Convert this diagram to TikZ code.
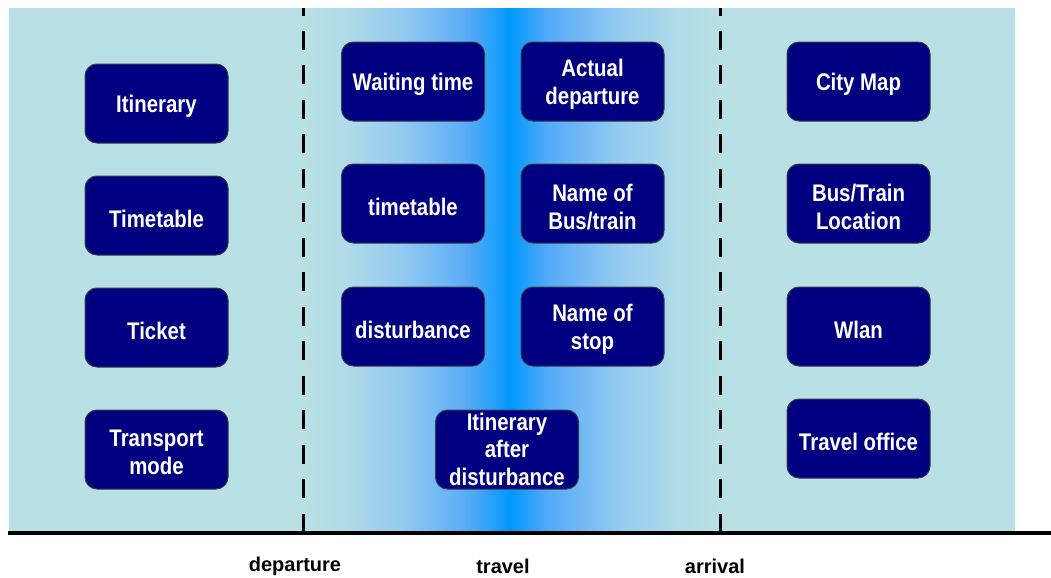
\documentclass[tikz,border=0pt]{standalone}
\usepackage{fontspec}
\newfontfamily\boxfont{Liberation Sans}[FakeStretch=0.85]
\newfontfamily\axisfont{Liberation Sans}

\definecolor{tealbg}{HTML}{B9E0E4}
\definecolor{bandA}{HTML}{B0DCE8}
\definecolor{bandB}{HTML}{95CBF0}
\definecolor{bandC}{HTML}{55AAF7}
\definecolor{bandD}{HTML}{0099FF}
\definecolor{boxnavy}{HTML}{000080}
\definecolor{boxedge}{HTML}{3A3A4A}

% light band in the travel phase, brightest in the middle
\pgfdeclarehorizontalshading{travelband}{100bp}{%
  color(0bp)=(tealbg); color(25bp)=(tealbg); color(30bp)=(bandA);
  color(36.6bp)=(bandB); color(45bp)=(bandC); color(49.8bp)=(bandD);
  color(54.5bp)=(bandC); color(63bp)=(bandB); color(70bp)=(bandA);
  color(75bp)=(tealbg); color(100bp)=(tealbg)}

% a rounded info box with its caption set slightly below the centre
\newcommand\infobox[4][-2.4pt]{%
  \node[infobox] (#2) at (#3) {};
  \node[boxtext] (#2-text) at ([yshift=#1]#2.center) {#4};}

\begin{document}
\begin{tikzpicture}[x=0.75pt,y=-0.75pt,
  infobox/.style={draw=boxedge, line width=0.75pt, fill=boxnavy,
    rounded corners=9pt, minimum width=107.25pt, minimum height=59.25pt,
    inner sep=0pt},
  boxtext/.style={inner sep=0pt, align=center, text=white,
    font=\boxfont\bfseries\fontsize{18}{21}\selectfont},
  tightbox/.style={font=\boxfont\bfseries\fontsize{18}{20.6}\selectfont},
  phaseline/.style={line width=2.25pt, dash pattern=on 14.25pt off 11.6pt,
    dash phase=8.6pt},
  phaselabel/.style={font=\axisfont\bfseries\fontsize{15}{18}\selectfont,
    inner sep=0pt}]

\useasboundingbox (0,0) rectangle (1051,578);

% background and the travel band
\fill[tealbg] (9,8) rectangle (1015,532);
\shade[shading=travelband] (303,8) rectangle (720,532);

% phase boundaries
\coordinate (depTop) at (303,8);
\coordinate (depBot) at (303,532);
\coordinate (arrTop) at (720,8);
\coordinate (arrBot) at (720,532);
\draw[phaseline] (depTop) -- (depBot);
\draw[phaseline] (arrTop) -- (arrBot);

% time axis
\coordinate (axisL) at (8,533);
\coordinate (axisR) at (1051,533);
\draw[line width=3pt] (axisL) -- (axisR);

\node[phaselabel] (lblDep) at (295,566) {departure};
\node[phaselabel] (lblTrv) at (503,566) {travel};
\node[phaselabel] (lblArr) at (715,566) {arrival};

% before departure
\infobox{itin}{156.5,103.5}{Itinerary}
\infobox{ttab}{156.5,215.5}{Timetable}
\infobox{tick}{156.5,327.5}{Ticket}
\infobox{tmode}{156.5,449.5}{Transport\\mode}

% during travel
\infobox{wait}{413,81.5}{Waiting time}
\infobox{ttab2}{413,203.5}{timetable}
\infobox{dist}{413,326.5}{disturbance}
\infobox{adep}{592.5,81.5}{Actual\\departure}
\infobox{nbus}{592.5,203.5}{Name of\\Bus/train}
\infobox{nstop}{592.5,326.5}{Name of\\stop}
\node[infobox] (itin2) at (507,449.5) {};
\node[boxtext, tightbox] (itin2-text) at ([yshift=0.4pt]itin2.center)
  {Itinerary\\after\\disturbance};

% at arrival
\infobox{cmap}{858.5,81.5}{City Map}
\infobox{bloc}{858.5,203.5}{Bus/Train\\Location}
\infobox{wlan}{858.5,326.5}{Wlan}
\infobox{toff}{858.5,438.5}{Travel office}

\end{tikzpicture}
\end{document}
